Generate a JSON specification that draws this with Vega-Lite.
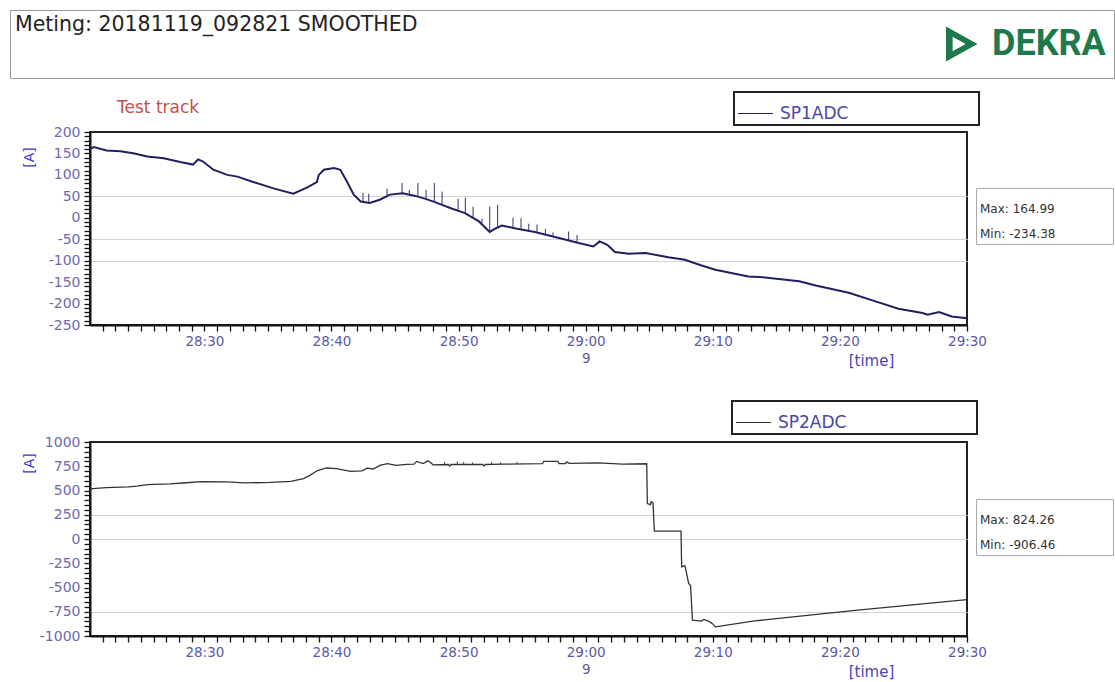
{
  "$schema": "https://vega.github.io/schema/vega-lite/v6.json",
  "background": "white",
  "padding": {"left": 8, "top": 8, "right": 0, "bottom": 0},
  "spacing": 30,
  "resolve": {"scale": {"color": "independent", "shape": "independent", "strokeDash": "independent", "size": "independent", "stroke": "independent"}},
  "config": {
    "view": {"stroke": "#222", "strokeWidth": 2},
    "font": "DejaVu Sans"
  },
  "datasets": {
    "top": [
      {"t": 21.0, "v": 161}, {"t": 21.3, "v": 165}, {"t": 22.3, "v": 157}, {"t": 23.4, "v": 155}, {"t": 24.5, "v": 150},
      {"t": 25.5, "v": 143}, {"t": 26.8, "v": 139}, {"t": 28.1, "v": 130}, {"t": 29.1, "v": 124}, {"t": 29.5, "v": 136},
      {"t": 29.9, "v": 131}, {"t": 30.7, "v": 112}, {"t": 31.8, "v": 100}, {"t": 32.6, "v": 96}, {"t": 33.9, "v": 83},
      {"t": 35.5, "v": 68}, {"t": 37.0, "v": 56}, {"t": 38.1, "v": 71}, {"t": 38.85, "v": 83}, {"t": 39.0, "v": 100},
      {"t": 39.4, "v": 112}, {"t": 40.2, "v": 116}, {"t": 40.7, "v": 112}, {"t": 41.2, "v": 85}, {"t": 41.75, "v": 54},
      {"t": 42.3, "v": 38}, {"t": 43.0, "v": 34.5}, {"t": 43.8, "v": 42}, {"t": 44.6, "v": 54}, {"t": 45.6, "v": 57},
      {"t": 46.6, "v": 51}, {"t": 47.4, "v": 44}, {"t": 48.2, "v": 36}, {"t": 48.7, "v": 30}, {"t": 49.5, "v": 21},
      {"t": 50.5, "v": 11}, {"t": 51.6, "v": -8.5}, {"t": 52.45, "v": -33}, {"t": 52.9, "v": -25}, {"t": 53.4, "v": -18},
      {"t": 54.5, "v": -25}, {"t": 56.0, "v": -33}, {"t": 57.9, "v": -47}, {"t": 59.45, "v": -59}, {"t": 60.6, "v": -67},
      {"t": 61.1, "v": -55}, {"t": 61.7, "v": -63}, {"t": 62.3, "v": -80}, {"t": 63.4, "v": -84}, {"t": 64.7, "v": -82},
      {"t": 66.5, "v": -92}, {"t": 67.8, "v": -98}, {"t": 69.0, "v": -110}, {"t": 70.2, "v": -121}, {"t": 72.8, "v": -137},
      {"t": 74.1, "v": -139}, {"t": 76.8, "v": -148}, {"t": 78.1, "v": -158}, {"t": 80.7, "v": -175}, {"t": 82.8, "v": -195},
      {"t": 84.6, "v": -212}, {"t": 86.5, "v": -222}, {"t": 86.9, "v": -226}, {"t": 87.8, "v": -220}, {"t": 88.8, "v": -230},
      {"t": 90.0, "v": -234.4}
    ],
    "topSpikes": [
      {"t": 42.48, "lo": 37, "hi": 58}, {"t": 42.93, "lo": 35, "hi": 56}, {"t": 44.37, "lo": 48, "hi": 68},
      {"t": 45.55, "lo": 56, "hi": 81}, {"t": 46.12, "lo": 54, "hi": 65}, {"t": 46.8, "lo": 51, "hi": 81},
      {"t": 47.44, "lo": 44, "hi": 65}, {"t": 48.09, "lo": 37, "hi": 81}, {"t": 48.7, "lo": 30, "hi": 61},
      {"t": 49.96, "lo": 17, "hi": 44}, {"t": 50.53, "lo": 11, "hi": 47}, {"t": 51.14, "lo": 1, "hi": 26},
      {"t": 51.84, "lo": -12, "hi": -2}, {"t": 52.45, "lo": -33, "hi": 26}, {"t": 53.07, "lo": -20, "hi": 30},
      {"t": 54.28, "lo": -24, "hi": 0}, {"t": 54.91, "lo": -29, "hi": -1}, {"t": 55.52, "lo": -32, "hi": -14},
      {"t": 56.17, "lo": -35, "hi": -16}, {"t": 56.83, "lo": -40, "hi": -26}, {"t": 57.43, "lo": -45, "hi": -34},
      {"t": 58.66, "lo": -54, "hi": -32}, {"t": 59.32, "lo": -58, "hi": -40}
    ],
    "bottom": [
      {"t": 21.0, "v": 512}, {"t": 21.2, "v": 520}, {"t": 22.3, "v": 530}, {"t": 24.0, "v": 538}, {"t": 24.7, "v": 545},
      {"t": 25.5, "v": 560}, {"t": 27.3, "v": 568}, {"t": 28.6, "v": 580}, {"t": 29.7, "v": 592}, {"t": 31.8, "v": 588},
      {"t": 33.1, "v": 578}, {"t": 35.2, "v": 583}, {"t": 36.8, "v": 595}, {"t": 37.8, "v": 622}, {"t": 38.3, "v": 656},
      {"t": 38.9, "v": 706}, {"t": 39.6, "v": 732}, {"t": 40.4, "v": 726}, {"t": 41.5, "v": 698}, {"t": 42.4, "v": 702},
      {"t": 42.8, "v": 730}, {"t": 43.3, "v": 722}, {"t": 43.8, "v": 758}, {"t": 44.4, "v": 776}, {"t": 45.1, "v": 760},
      {"t": 45.9, "v": 770}, {"t": 46.5, "v": 772}, {"t": 46.7, "v": 800}, {"t": 47.2, "v": 778}, {"t": 47.6, "v": 806},
      {"t": 48.0, "v": 765}, {"t": 49.2, "v": 768}, {"t": 49.3, "v": 752}, {"t": 49.4, "v": 768}, {"t": 51.9, "v": 768},
      {"t": 52.0, "v": 752}, {"t": 52.1, "v": 768}, {"t": 53.5, "v": 772}, {"t": 56.6, "v": 776}, {"t": 56.7, "v": 800},
      {"t": 57.8, "v": 800}, {"t": 57.9, "v": 778}, {"t": 58.4, "v": 778}, {"t": 58.5, "v": 795}, {"t": 58.7, "v": 780},
      {"t": 61.0, "v": 785}, {"t": 62.9, "v": 772}, {"t": 64.8, "v": 776}, {"t": 64.85, "v": 365}, {"t": 65.1, "v": 355},
      {"t": 65.15, "v": 385}, {"t": 65.3, "v": 370}, {"t": 65.4, "v": 81}, {"t": 67.5, "v": 81}, {"t": 67.55, "v": -287},
      {"t": 67.8, "v": -275}, {"t": 67.85, "v": -300}, {"t": 68.1, "v": -458}, {"t": 68.25, "v": -480}, {"t": 68.4, "v": -836},
      {"t": 69.1, "v": -847}, {"t": 69.3, "v": -830}, {"t": 69.7, "v": -850}, {"t": 70.0, "v": -875}, {"t": 70.2, "v": -906},
      {"t": 73.3, "v": -845}, {"t": 81.2, "v": -735}, {"t": 90.0, "v": -625}
    ],
    "bottomSpikes": [
      {"t": 48.9, "lo": 768, "hi": 795}, {"t": 49.9, "lo": 768, "hi": 800}, {"t": 50.4, "lo": 768, "hi": 795},
      {"t": 51.1, "lo": 768, "hi": 790}, {"t": 52.6, "lo": 768, "hi": 795}, {"t": 53.3, "lo": 770, "hi": 790},
      {"t": 54.6, "lo": 770, "hi": 795}
    ],
    "topStats": [{"stat": "Max: 164.99"}, {"stat": "Min: -234.38"}],
    "bottomStats": [{"stat": "Max: 824.26"}, {"stat": "Min: -906.46"}],
    "header": [{"h": "Meting:  20181119_092821 SMOOTHED"}],
    "logo": [{"brand": "DEKRA"}],
    "track": [{"tr": "Test track"}]
  },
  "vconcat": [
    {
      "width": 877,
      "height": 193,
      "layer": [
        {
          "data": {"name": "top"},
          "mark": {"type": "line", "strokeWidth": 2, "clip": true},
          "encoding": {
            "x": {
              "field": "t", "type": "quantitative",
              "scale": {"domain": [21, 90], "nice": false, "zero": false},
              "axis": {
                "values": [22,23,24,25,26,27,28,29,30,31,32,33,34,35,36,37,38,39,40,41,42,43,44,45,46,47,48,49,50,51,52,53,54,55,56,57,58,59,60,61,62,63,64,65,66,67,68,69,70,71,72,73,74,75,76,77,78,79,80,81,82,83,84,85,86,87,88,89,90],
                "tickCount": 1000,
                "labelExpr": "datum.value === 60 ? ['29:00', '9'] : (datum.value % 10 !== 0 ? '' : (datum.value < 60 ? '28:' + datum.value : '29:' + (datum.value - 60)))",
                "labelOverlap": false, "labelFlush": false, "labelBound": false,
                "labelFont": "DejaVu Sans", "labelFontSize": 13.5, "labelColor": "#5a5aa0", "labelPadding": 3, "labelLineHeight": 17,
                "tickSize": 6, "tickColor": "#111", "tickWidth": 1.3,
                "domainColor": "#111", "domainWidth": 2, "grid": false,
                "title": "[time]", "titleFont": "DejaVu Sans", "titleFontSize": 15, "titleFontWeight": "normal", "titleColor": "#4646b4",
                "titleX": 781, "titleY": 35, "titleAlign": "center", "titleBaseline": "middle",
                "encode": {"ticks": {"update": {"y": {"signal": "datum.value % 10 === 0 ? -7 : -4"}, "y2": {"signal": "datum.value % 10 === 0 ? 7 : 4"}}}}
              }
            },
            "y": {
              "field": "v", "type": "quantitative",
              "scale": {"domain": [-250, 200], "nice": false, "zero": false},
              "axis": {
                "values": [-250,-240,-230,-220,-210,-200,-190,-180,-170,-160,-150,-140,-130,-120,-110,-100,-90,-80,-70,-60,-50,-40,-30,-20,-10,0,10,20,30,40,50,60,70,80,90,100,110,120,130,140,150,160,170,180,190,200],
                "tickCount": 1000,
                "labelExpr": "datum.value % 50 === 0 ? '' + datum.value : ''",
                "labelOverlap": false, "labelBound": false, "labelFlush": false,
                "labelFont": "DejaVu Sans", "labelFontSize": 14, "labelColor": "#6a6ab0", "labelPadding": 4,
                "tickSize": 6, "tickColor": "#111", "tickWidth": 1.3,
                "domainColor": "#111", "domainWidth": 2,
                "grid": true, "gridColor": "#d2d2d2",
                "gridOpacity": {"condition": {"test": "datum.value === 50 || datum.value === -50 || datum.value === -100", "value": 1}, "value": 0},
                "title": "[A]", "titleFont": "DejaVu Sans", "titleFontSize": 14, "titleFontWeight": "normal", "titleColor": "#3c3cc8",
                "titleX": -61, "titleY": 25, "titleAngle": -90, "titleAlign": "center", "titleBaseline": "middle",
                "encode": {"ticks": {"update": {"x": {"signal": "datum.value % 50 === 0 ? 7 : 4"}, "x2": {"signal": "datum.value % 50 === 0 ? -7 : -4"}}}}
              }
            },
            "color": {
              "datum": "SP1ADC", "type": "nominal",
              "scale": {"range": ["#202060"]},
              "legend": {
                "orient": "none", "legendX": 644, "legendY": -40, "title": null,
                "strokeColor": "#222", "fillColor": "white", "padding": 3,
                "symbolType": "M-1,0 L1,0 M12.45,0", "symbolSize": 1225, "symbolStrokeWidth": 1.2, "symbolStrokeColor": "#333", "symbolFillColor": "transparent",
                "labelFont": "DejaVu Sans", "labelFontSize": 17, "labelColor": "#4848a8", "labelOffset": 6, "labelLimit": 1000,
                "encode": {"legend": {"update": {"strokeWidth": {"value": 2}}}}
              }
            }
          }
        },
        {
          "data": {"name": "topSpikes"},
          "mark": {"type": "rule", "color": "#303070", "strokeWidth": 1},
          "encoding": {
            "x": {"field": "t", "type": "quantitative"},
            "y": {"field": "lo", "type": "quantitative"},
            "y2": {"field": "hi"}
          }
        },
        {
          "data": {"name": "topStats"},
          "mark": {"type": "point", "opacity": 0},
          "encoding": {
            "shape": {
              "field": "stat", "type": "nominal",
              "legend": {
                "orient": "none", "legendX": 886, "legendY": 56, "title": null,
                "strokeColor": "#aaa", "fillColor": "white", "padding": 4, "rowPadding": 2,
                "symbolType": "square", "symbolSize": 484, "symbolOpacity": 0, "symbolOffset": 106, "labelOffset": -130, "labelBaseline": "top",
                "labelFont": "DejaVu Sans", "labelFontSize": 12, "labelColor": "#333", "labelLimit": 1000
              }
            }
          }
        },
        {
          "data": {"name": "header"},
          "mark": {"type": "point", "opacity": 0},
          "encoding": {
            "strokeDash": {
              "field": "h", "type": "nominal",
              "legend": {
                "orient": "none", "legendX": -80, "legendY": -122,
                "title": "Meting:  20181119_092821 SMOOTHED", "titleFont": "DejaVu Sans", "titleFontSize": 20.5,
                "titleFontWeight": "normal", "titleColor": "#222", "titleLimit": 2000, "titlePadding": 0,
                "strokeColor": "#999", "fillColor": "white", "padding": 5,
                "symbolType": "square", "symbolSize": 1369, "symbolOpacity": 0, "symbolStrokeWidth": 0, "symbolOffset": 1057,
                "labelOffset": 0, "labelExpr": "''"
              }
            }
          }
        },
        {
          "data": {"name": "track"},
          "mark": {"type": "point", "opacity": 0},
          "encoding": {
            "stroke": {
              "field": "tr", "type": "nominal", "scale": {"range": ["#c0504d"]},
              "legend": {
                "orient": "none", "legendX": 27, "legendY": -32,
                "title": "Test track", "titleFont": "DejaVu Sans", "titleFontSize": 17,
                "titleFontWeight": "normal", "titleColor": "#c0504d", "titlePadding": 0, "padding": 0,
                "symbolSize": 0, "symbolOpacity": 0, "labelExpr": "''", "labelFontSize": 1
              }
            }
          }
        },
        {
          "data": {"name": "logo"},
          "mark": {"type": "point", "opacity": 0, "filled": true, "color": "#1e7a4c", "shape": "M-0.8,-1 L1,0 L-0.8,1 Z M-0.42,-0.42 L-0.42,0.42 L0.32,0 Z"},
          "encoding": {
            "size": {
              "field": "brand", "type": "nominal", "scale": {"range": [1225, 1225]},
              "legend": {
                "orient": "none", "legendX": 852, "legendY": -106, "title": null, "padding": 0,
                "symbolType": "M-0.8,-1 L1,0 L-0.8,1 Z M-0.42,-0.42 L-0.42,0.42 L0.32,0 Z",
                "symbolFillColor": "#1e7a4c", "symbolStrokeColor": "#1e7a4c", "symbolStrokeWidth": 0, "symbolOpacity": 1,
                "labelFont": "Roboto", "labelFontSize": 36, "labelFontWeight": "bold", "labelColor": "#1e7a4c",
                "labelOffset": 14, "labelLimit": 500
              }
            }
          }
        }
      ]
    },
    {
      "width": 877,
      "height": 194,
      "layer": [
        {
          "data": {"name": "bottom"},
          "mark": {"type": "line", "strokeWidth": 1.3, "clip": true},
          "encoding": {
            "x": {
              "field": "t", "type": "quantitative",
              "scale": {"domain": [21, 90], "nice": false, "zero": false},
              "axis": {
                "values": [22,23,24,25,26,27,28,29,30,31,32,33,34,35,36,37,38,39,40,41,42,43,44,45,46,47,48,49,50,51,52,53,54,55,56,57,58,59,60,61,62,63,64,65,66,67,68,69,70,71,72,73,74,75,76,77,78,79,80,81,82,83,84,85,86,87,88,89,90],
                "tickCount": 1000,
                "labelExpr": "datum.value === 60 ? ['29:00', '9'] : (datum.value % 10 !== 0 ? '' : (datum.value < 60 ? '28:' + datum.value : '29:' + (datum.value - 60)))",
                "labelOverlap": false, "labelFlush": false, "labelBound": false,
                "labelFont": "DejaVu Sans", "labelFontSize": 13.5, "labelColor": "#5a5aa0", "labelPadding": 3, "labelLineHeight": 17,
                "tickSize": 6, "tickColor": "#111", "tickWidth": 1.3,
                "domainColor": "#111", "domainWidth": 2, "grid": false,
                "title": "[time]", "titleFont": "DejaVu Sans", "titleFontSize": 15, "titleFontWeight": "normal", "titleColor": "#4646b4",
                "titleX": 781, "titleY": 35, "titleAlign": "center", "titleBaseline": "middle",
                "encode": {"ticks": {"update": {"y": {"signal": "datum.value % 10 === 0 ? -7 : -4"}, "y2": {"signal": "datum.value % 10 === 0 ? 7 : 4"}}}}
              }
            },
            "y": {
              "field": "v", "type": "quantitative",
              "scale": {"domain": [-1000, 1000], "nice": false, "zero": false},
              "axis": {
                "values": [-1000,-950,-900,-850,-800,-750,-700,-650,-600,-550,-500,-450,-400,-350,-300,-250,-200,-150,-100,-50,0,50,100,150,200,250,300,350,400,450,500,550,600,650,700,750,800,850,900,950,1000],
                "tickCount": 1000,
                "labelExpr": "datum.value % 250 === 0 ? '' + datum.value : ''",
                "labelOverlap": false, "labelBound": false, "labelFlush": false,
                "labelFont": "DejaVu Sans", "labelFontSize": 14, "labelColor": "#6a6ab0", "labelPadding": 4,
                "tickSize": 6, "tickColor": "#111", "tickWidth": 1.3,
                "domainColor": "#111", "domainWidth": 2,
                "grid": true, "gridColor": "#d2d2d2",
                "gridOpacity": {"condition": {"test": "datum.value === 250 || datum.value === 0 || datum.value === -750", "value": 1}, "value": 0},
                "title": "[A]", "titleFont": "DejaVu Sans", "titleFontSize": 14, "titleFontWeight": "normal", "titleColor": "#3c3cc8",
                "titleX": -61, "titleY": 21, "titleAngle": -90, "titleAlign": "center", "titleBaseline": "middle",
                "encode": {"ticks": {"update": {"x": {"signal": "datum.value % 250 === 0 ? 7 : 4"}, "x2": {"signal": "datum.value % 250 === 0 ? -7 : -4"}}}}
              }
            },
            "color": {
              "datum": "SP2ADC", "type": "nominal",
              "scale": {"range": ["#333333"]},
              "legend": {
                "orient": "none", "legendX": 642, "legendY": -41, "title": null,
                "strokeColor": "#222", "fillColor": "white", "padding": 3,
                "symbolType": "M-1,0 L1,0 M12.45,0", "symbolSize": 1225, "symbolStrokeWidth": 1.2, "symbolStrokeColor": "#333", "symbolFillColor": "transparent",
                "labelFont": "DejaVu Sans", "labelFontSize": 17, "labelColor": "#4848a8", "labelOffset": 6, "labelLimit": 1000,
                "encode": {"legend": {"update": {"strokeWidth": {"value": 2}}}}
              }
            }
          }
        },
        {
          "data": {"name": "bottomSpikes"},
          "mark": {"type": "rule", "color": "#444", "strokeWidth": 1},
          "encoding": {
            "x": {"field": "t", "type": "quantitative"},
            "y": {"field": "lo", "type": "quantitative"},
            "y2": {"field": "hi"}
          }
        },
        {
          "data": {"name": "bottomStats"},
          "mark": {"type": "point", "opacity": 0},
          "encoding": {
            "shape": {
              "field": "stat", "type": "nominal",
              "legend": {
                "orient": "none", "legendX": 886, "legendY": 57, "title": null,
                "strokeColor": "#aaa", "fillColor": "white", "padding": 4, "rowPadding": 2,
                "symbolType": "square", "symbolSize": 484, "symbolOpacity": 0, "symbolOffset": 106, "labelOffset": -130, "labelBaseline": "top",
                "labelFont": "DejaVu Sans", "labelFontSize": 12, "labelColor": "#333", "labelLimit": 1000
              }
            }
          }
        }
      ]
    }
  ]
}
